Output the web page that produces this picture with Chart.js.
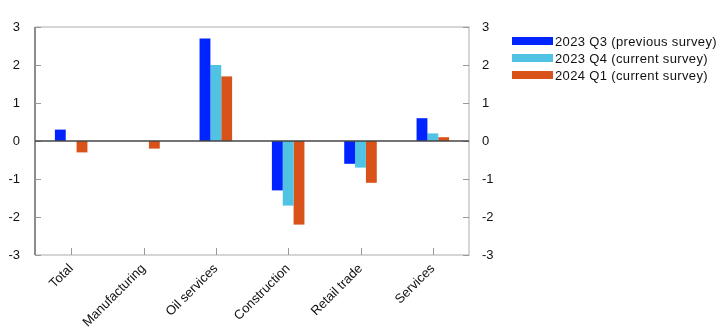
<!DOCTYPE html>
<html>
<head>
<meta charset="utf-8">
<script src="https://cdn.jsdelivr.net/npm/chart.js@4/dist/chart.umd.min.js"></script>
<style>
  html, body { margin: 0; padding: 0; background: #fff; }
  #wrap { width: 722px; height: 331px; }
</style>
</head>
<body>
<div id="wrap"><canvas id="c" width="722" height="331"></canvas></div>
<script>
// Sectors and survey periods
const categories = ['Total', 'Manufacturing', 'Oil services', 'Construction', 'Retail trade', 'Services'];
const seriesLabels = ['2023 Q3 (previous survey)', '2023 Q4 (current survey)', '2024 Q1 (current survey)'];
const q3_2023 = [0.3, 0.0, 2.7, -1.3, -0.6, 0.6];
const q4_2023 = [0.0, 0.0, 2.0, -1.7, -0.7, 0.2];
const q1_2024 = [-0.3, -0.2, 1.7, -2.2, -1.1, 0.1];
const yTicks = [-3, -2, -1, 0, 1, 2, 3];

const colors = ['#0024ff', '#50c2e4', '#d9521a'];
const FONT = '"Liberation Sans", Arial, sans-serif';

// Frame, tick marks, zero line and legend
const framePlugin = {
  id: 'frame',
  afterDatasetsDraw(chart) {
    const ctx = chart.ctx;
    const a = chart.chartArea;
    const y = chart.scales.y;
    const x = chart.scales.x;
    ctx.save();
    // light frame (top, right, bottom)
    ctx.strokeStyle = '#c8c8c8';
    ctx.lineWidth = 1.5;
    ctx.beginPath();
    ctx.moveTo(a.left, a.top); ctx.lineTo(a.right, a.top);
    ctx.lineTo(a.right, a.bottom); ctx.lineTo(a.left, a.bottom);
    ctx.stroke();
    // left axis line
    ctx.strokeStyle = '#666';
    ctx.beginPath();
    ctx.moveTo(a.left, a.top); ctx.lineTo(a.left, a.bottom);
    ctx.stroke();
    // tick marks
    ctx.strokeStyle = '#999';
    ctx.lineWidth = 1;
    yTicks.forEach(v => {
      const py = Math.round(y.getPixelForValue(v)) + 0.5;
      ctx.beginPath();
      ctx.moveTo(a.left, py); ctx.lineTo(a.left + 6, py);
      ctx.moveTo(a.right - 6, py); ctx.lineTo(a.right, py);
      ctx.stroke();
    });
    categories.forEach((c, i) => {
      const px = Math.round(x.getPixelForValue(i)) + 0.5;
      ctx.beginPath();
      ctx.moveTo(px, a.bottom); ctx.lineTo(px, a.bottom - 7);
      ctx.stroke();
    });
    // zero line
    const z = y.getPixelForValue(0);
    ctx.strokeStyle = '#444';
    ctx.lineWidth = 1.5;
    ctx.beginPath();
    ctx.moveTo(a.left, z); ctx.lineTo(a.right, z);
    ctx.stroke();
    // legend
    ctx.font = '13px ' + FONT;
    ctx.letterSpacing = '0.35px';
    ctx.textBaseline = 'middle';
    ctx.textAlign = 'left';
    chart.data.datasets.forEach((ds, i) => {
      const cy = 41 + i * 17;
      ctx.fillStyle = ds.backgroundColor;
      ctx.fillRect(512, cy - 4, 41, 8);
      ctx.fillStyle = '#111';
      ctx.fillText(ds.label, 555, cy + 1);
    });
    ctx.restore();
  }
};

const datasets = [q3_2023, q4_2023, q1_2024].map((d, i) => ({
  label: seriesLabels[i],
  data: d,
  backgroundColor: colors[i],
  borderWidth: 0,
  categoryPercentage: 0.45,
  barPercentage: 1.0,
  yAxisID: 'y'
}));

new Chart(document.getElementById('c'), {
  type: 'bar',
  data: { labels: categories, datasets },
  options: {
    responsive: false,
    animation: false,
    devicePixelRatio: 1,
    layout: { padding: { top: 27, left: 0, right: 0, bottom: 0 } },
    plugins: { legend: { display: false }, tooltip: { enabled: false } },
    scales: {
      x: {
        grid: { display: false, drawTicks: false },
        border: { display: false },
        ticks: {
          color: '#111', font: { family: FONT, size: 13 },
          maxRotation: 45, minRotation: 45, padding: 6, autoSkip: false
        },
        afterFit(s) { s.height = 76; }
      },
      y: {
        position: 'left',
        min: -3, max: 3,
        grid: { display: false, drawTicks: false },
        border: { display: false },
        afterBuildTicks(s) { s.ticks = yTicks.map(v => ({ value: v })); },
        ticks: { color: '#111', font: { family: FONT, size: 13 }, padding: 15 },
        afterFit(s) { s.width = 35; }
      },
      y2: {
        position: 'right',
        min: -3, max: 3,
        grid: { display: false, drawTicks: false },
        border: { display: false },
        afterBuildTicks(s) { s.ticks = yTicks.map(v => ({ value: v })); },
        ticks: { color: '#111', font: { family: FONT, size: 13 }, padding: 13 },
        afterFit(s) { s.width = 253; }
      }
    }
  },
  plugins: [framePlugin]
});
</script>
</body>
</html>
